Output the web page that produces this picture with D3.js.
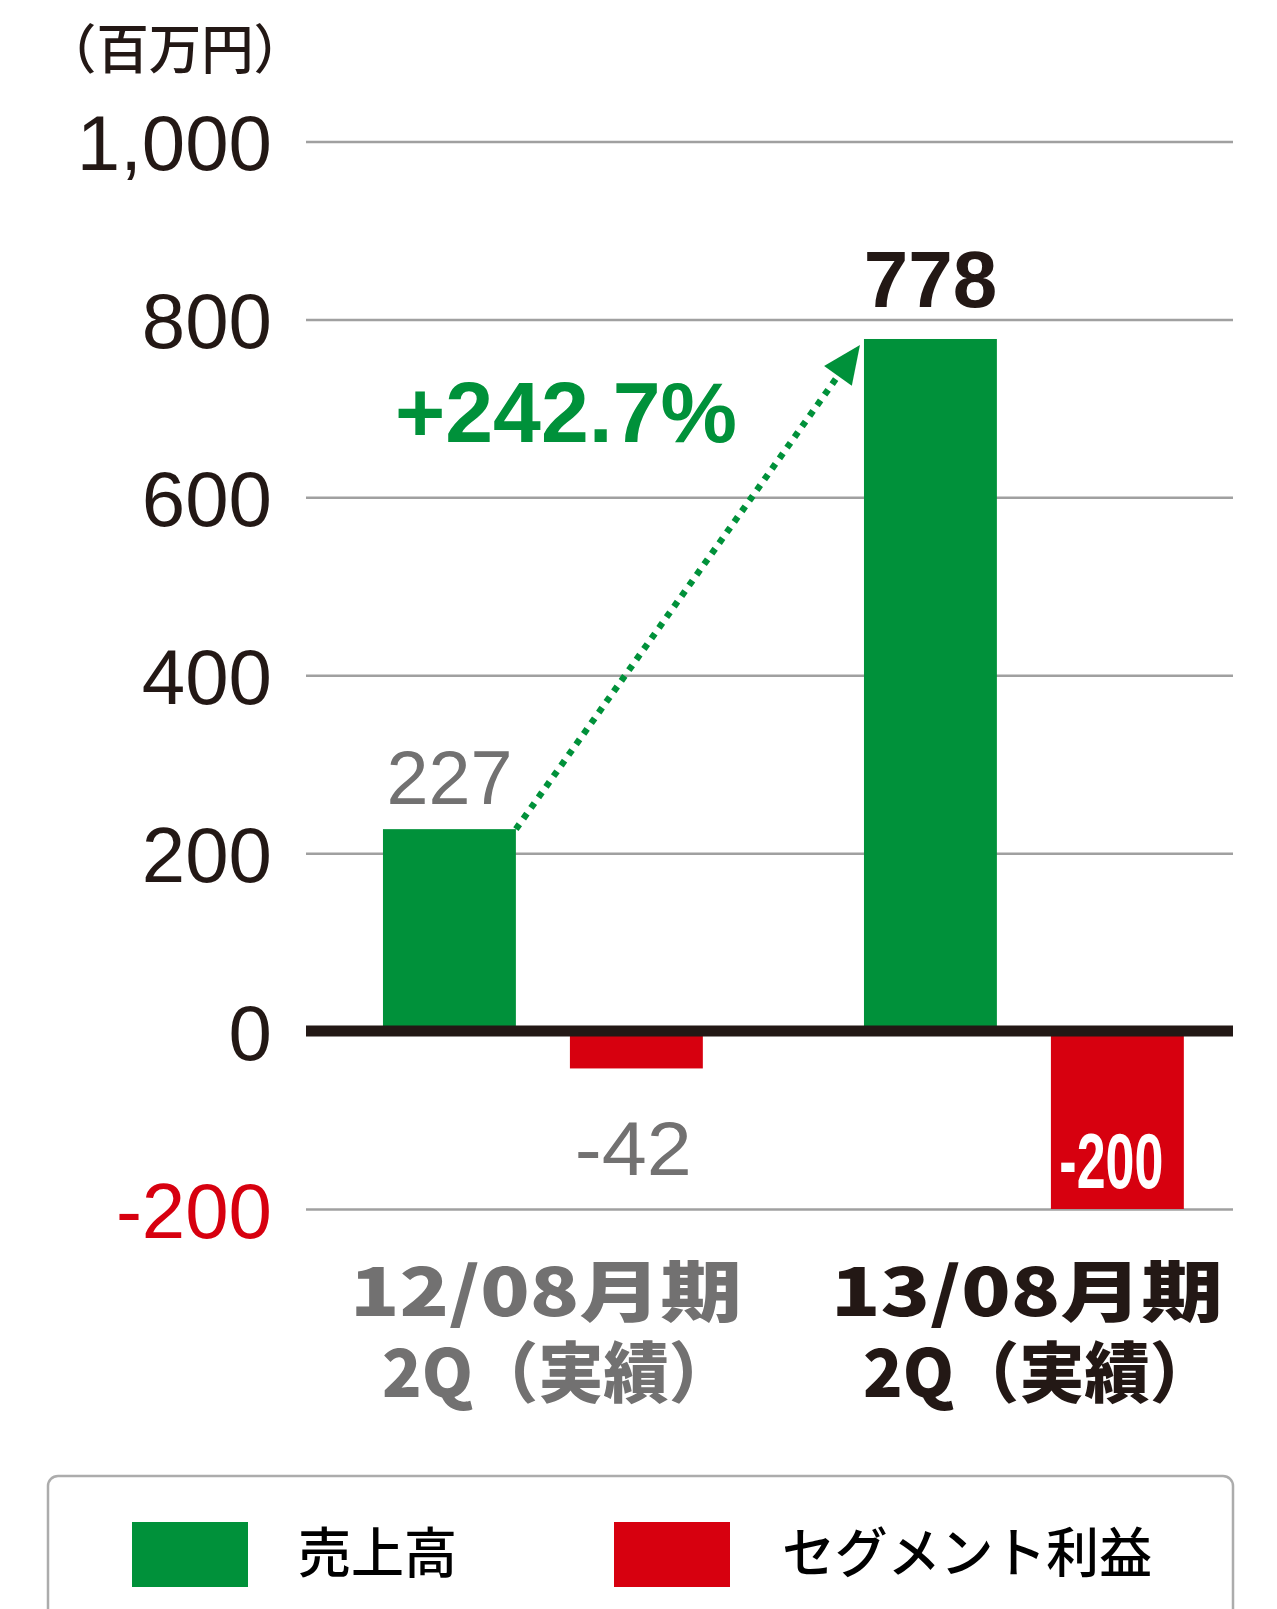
<!DOCTYPE html>
<html>
  <head>
    <meta charset="utf-8">
    <script src="https://cdn.jsdelivr.net/npm/d3@7/dist/d3.min.js"></script>
    <style>
      body { margin: 0; background: #fff; }
    </style>
  </head>
  <body>
    <svg id="chart" width="1277" height="1609"></svg>
    <script>
    // values
    var categories = ["12/08月期", "13/08月期"];
    var categorySub = ["2Q（実績）", "2Q（実績）"];
    var seriesNames = ["売上高", "セグメント利益"];
    var sales = [227, 778];
    var profit = [-42, -200];
    var yTicks = [-200, 0, 200, 400, 600, 800, 1000];
    var growth = "+242.7%";
    var unitLabel = "（百万円）";

    var green = "#00913a", red = "#d7000f", ink = "#231815", grey = "#727171";

    var svg = d3.select("#chart");

    var x0 = d3.scaleBand().domain(categories).range([302.4, 1264.4])
      .paddingInner(0.335).paddingOuter(0.1675);
    var x1 = d3.scaleBand().domain(seriesNames).range([0, x0.bandwidth()]).paddingInner(0.289);
    var y = d3.scaleLinear().domain([-200, 1000]).range([1209, 141.5]);

    var gridLeft = 306, gridRight = 1233;
    var fmt = d3.format(",");

    // grid + tick labels
    var axis = svg.append("g")
      .attr("transform", "translate(" + gridLeft + ",0)")
      .call(d3.axisLeft(y).tickValues(yTicks).tickSize(-(gridRight - gridLeft)).tickPadding(34)
        .tickFormat(function(d){ return fmt(d).replace("\u2212", "-"); }));
    axis.select(".domain").remove();
    axis.selectAll(".tick line")
      .attr("stroke", "#a0a0a0").attr("stroke-width", 2.5)
      .attr("opacity", function(d){ return d === 0 ? 0 : 1; });
    axis.selectAll(".tick text")
      .attr("font-family", "'Liberation Sans', Arial, sans-serif")
      .attr("font-size", 78)
      .attr("dy", "0.36em")
      .attr("fill", function(d){ return d < 0 ? red : ink; });

    svg.append("text")
      .attr("x", 44).attr("y", 69)
      .attr("font-family", "'Noto Sans CJK JP', sans-serif")
      .attr("font-weight", 500)
      .attr("font-size", 53)
      .attr("textLength", 262).attr("lengthAdjust", "spacingAndGlyphs")
      .attr("fill", ink)
      .text(unitLabel);

    var zeroHalf = 5.5;

    // sales bars
    svg.append("g").selectAll("rect")
      .data(sales)
      .enter().append("rect")
      .attr("x", function(d, i){ return x0(categories[i]) + x1(seriesNames[0]); })
      .attr("width", x1.bandwidth())
      .attr("y", function(d){ return y(d); })
      .attr("height", function(d){ return y(0) - y(d); })
      .attr("fill", green);

    // profit bars
    svg.append("g").selectAll("rect")
      .data(profit)
      .enter().append("rect")
      .attr("x", function(d, i){ return x0(categories[i]) + x1(seriesNames[1]); })
      .attr("width", x1.bandwidth())
      .attr("y", y(0))
      .attr("height", function(d){ return y(d) - y(0); })
      .attr("fill", red);

    // zero line
    svg.append("line")
      .attr("x1", gridLeft).attr("x2", gridRight)
      .attr("y1", y(0)).attr("y2", y(0))
      .attr("stroke", ink).attr("stroke-width", zeroHalf * 2);

    // value labels
    var salesX = function(i){ return x0(categories[i]) + x1(seriesNames[0]) + x1.bandwidth() / 2; };
    var profitX = function(i){ return x0(categories[i]) + x1(seriesNames[1]) + x1.bandwidth() / 2; };

    svg.append("text")
      .attr("x", salesX(0)).attr("y", y(sales[0]) - 25)
      .attr("text-anchor", "middle")
      .attr("font-family", "'Liberation Sans', Arial, sans-serif")
      .attr("font-size", 76).attr("fill", grey)
      .attr("textLength", 126).attr("lengthAdjust", "spacingAndGlyphs")
      .text(sales[0]);

    svg.append("text")
      .attr("x", salesX(1)).attr("y", y(sales[1]) - 32)
      .attr("text-anchor", "middle")
      .attr("font-family", "'Liberation Sans', Arial, sans-serif")
      .attr("font-weight", "bold")
      .attr("font-size", 80).attr("fill", ink)
      .text(sales[1]);

    svg.append("text")
      .attr("x", profitX(0) - 3).attr("y", y(0) + 144)
      .attr("text-anchor", "middle")
      .attr("font-family", "'Liberation Sans', Arial, sans-serif")
      .attr("font-size", 76).attr("fill", grey)
      .attr("textLength", 117).attr("lengthAdjust", "spacingAndGlyphs")
      .text(profit[0]);

    svg.append("text")
      .attr("x", profitX(1) - 6).attr("y", y(profit[1]) - 21)
      .attr("text-anchor", "middle")
      .attr("font-family", "'Liberation Sans Narrow', 'Liberation Sans', Arial, sans-serif")
      .attr("font-weight", "bold")
      .attr("font-size", 78).attr("fill", "#fff")
      .attr("textLength", 104).attr("lengthAdjust", "spacingAndGlyphs")
      .text(profit[1]);

    // growth arrow: from top-right of first sales bar to top-left of second
    var sx = x0(categories[0]) + x1(seriesNames[0]) + x1.bandwidth(), sy = y(sales[0]);
    var tx = x0(categories[1]) + x1(seriesNames[0]) - 4, ty = y(sales[1]) + 6;
    var len = Math.hypot(tx - sx, ty - sy), ux = (tx - sx) / len, uy = (ty - sy) / len;
    var headLen = 38, headHalf = 17;
    var bx = tx - ux * headLen, by = ty - uy * headLen;

    svg.append("line")
      .attr("x1", sx).attr("y1", sy)
      .attr("x2", bx + ux * 4).attr("y2", by + uy * 4)
      .attr("stroke", green).attr("stroke-width", 6.5)
      .attr("stroke-dasharray", "6,7");
    svg.append("path")
      .attr("d", "M" + tx + "," + ty +
        "L" + (bx - uy * headHalf) + "," + (by + ux * headHalf) +
        "L" + (bx + uy * headHalf) + "," + (by - ux * headHalf) + "Z")
      .attr("fill", green);

    svg.append("text")
      .attr("x", 395).attr("y", 442)
      .attr("font-family", "'Liberation Sans', Arial, sans-serif")
      .attr("font-weight", "bold")
      .attr("font-size", 85).attr("fill", green)
      .attr("textLength", 342).attr("lengthAdjust", "spacingAndGlyphs")
      .text(growth);

    // category labels
    var catColors = [grey, ink];
    var catG = svg.append("g").selectAll("g")
      .data(categories)
      .enter().append("g")
      .attr("transform", function(d){ return "translate(" + (x0(d) + x0.bandwidth() / 2 + 3) + ",0)"; })
      .attr("font-family", "'Noto Sans CJK JP', sans-serif")
      .attr("font-weight", 900)
      .attr("font-size", 66)
      .attr("text-anchor", "middle")
      .attr("fill", function(d, i){ return catColors[i]; });
    catG.append("text")
      .attr("y", 1316)
      .attr("textLength", 392).attr("lengthAdjust", "spacingAndGlyphs")
      .text(function(d){ return d; });
    catG.append("text")
      .attr("x", 12)
      .attr("y", 1397)
      .attr("textLength", 352).attr("lengthAdjust", "spacingAndGlyphs")
      .text(function(d, i){ return categorySub[i]; });

    // legend
    var legend = svg.append("g");
    legend.append("rect")
      .attr("x", 48).attr("y", 1476)
      .attr("width", 1185).attr("height", 220)
      .attr("rx", 10)
      .attr("fill", "#fff").attr("stroke", "#acacac").attr("stroke-width", 2.5);
    var legendX = [132, 614];
    var legendColors = [green, red];
    var item = legend.selectAll("g.item")
      .data(seriesNames)
      .enter().append("g").attr("class", "item")
      .attr("transform", function(d, i){ return "translate(" + legendX[i] + ",0)"; });
    item.append("rect")
      .attr("y", 1522).attr("width", 116).attr("height", 65)
      .attr("fill", function(d, i){ return legendColors[i]; });
    item.append("text")
      .attr("x", function(d, i){ return i === 0 ? 166 : 168; })
      .attr("y", 1573)
      .attr("font-family", "'Noto Sans CJK JP', sans-serif")
      .attr("font-weight", 500)
      .attr("font-size", 54)
      .attr("fill", "#000")
      .attr("textLength", function(d, i){ return i === 0 ? 159 : 370; })
      .attr("lengthAdjust", "spacingAndGlyphs")
      .text(function(d){ return d; });
    </script>
  </body>
</html>
